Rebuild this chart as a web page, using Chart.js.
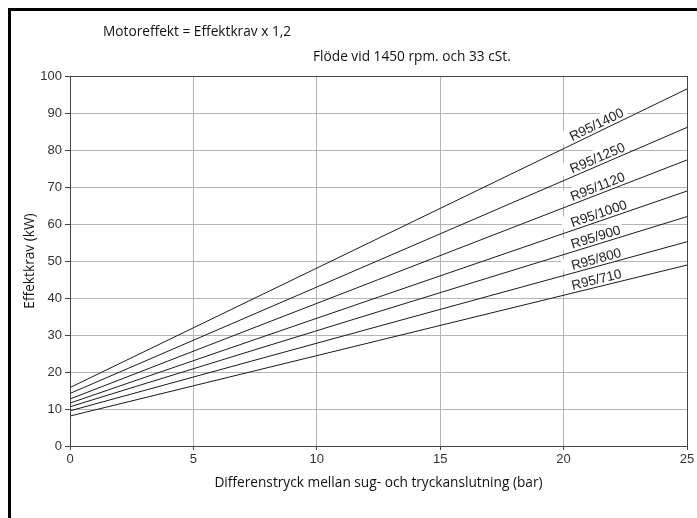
<!DOCTYPE html>
<html>
<head>
<meta charset="utf-8">
<script src="https://cdn.jsdelivr.net/npm/chart.js@4"></script>
<style>
  html, body { margin: 0; padding: 0; background: #fff; }
  #wrap { position: relative; width: 697px; height: 518px; overflow: hidden; }
  #frame { position: absolute; left: 8px; top: 8px; width: 720px; height: 600px; border: 3px solid #000; box-sizing: border-box; }
  #graph { position: absolute; left: 0; top: 0; }
</style>
</head>
<body>
<div id="wrap">
  <div id="frame"></div>
  <canvas id="graph" width="697" height="518"></canvas>
</div>
<script>
// Pumpar och effektkrav (kW) vid 0 och 25 bar
const pumps = ['R95/1400', 'R95/1250', 'R95/1120', 'R95/1000', 'R95/900', 'R95/800', 'R95/710'];
const pressure = [0, 25];
const effectAt0 = [15.8, 14.2, 12.7, 11.6, 10.6, 9.5, 8.1];
const effectAt25 = [96.5, 86.1, 77.3, 68.9, 62.0, 55.2, 48.9];

// Texter
const headerText = 'Motoreffekt = Effektkrav x 1,2';
const subText = 'Flöde vid 1450 rpm. och 33 cSt.';
const xTitle = 'Differenstryck mellan sug- och tryckanslutning (bar)';
const yTitle = 'Effektkrav (kW)';
const labelAt = 20.4; // var etiketterna börjar (bar)

const titleFont = '13.7px "Open Sans", sans-serif';
const labelFont = '13.5px "Liberation Sans", Arial, sans-serif';

const datasets = pumps.map((name, i) => ({
  label: name,
  data: pressure.map((p, k) => ({ x: p, y: k === 0 ? effectAt0[i] : effectAt25[i] })),
  borderColor: '#1a1a1a',
  borderWidth: 1,
  pointRadius: 0,
  fill: false,
  tension: 0
}));

// Etiketter, ram och rubriker
const overlay = {
  id: 'overlay',
  beforeDatasetsDraw(chart) {
    const ctx = chart.ctx;
    const xs = chart.scales.x, ys = chart.scales.y;
    ctx.save();
    ctx.font = labelFont;
    ctx.textBaseline = 'alphabetic';
    ctx.textAlign = 'left';
    pumps.forEach((name, i) => {
      const x0 = xs.getPixelForValue(0), y0 = ys.getPixelForValue(effectAt0[i]);
      const x1 = xs.getPixelForValue(25), y1 = ys.getPixelForValue(effectAt25[i]);
      const angle = Math.atan2(y1 - y0, x1 - x0);
      const v = effectAt0[i] + (effectAt25[i] - effectAt0[i]) * labelAt / 25;
      const px = xs.getPixelForValue(labelAt), py = ys.getPixelForValue(v);
      const w = ctx.measureText(name).width;
      ctx.save();
      ctx.translate(px, py);
      ctx.rotate(angle);
      ctx.fillStyle = '#fff';
      ctx.fillRect(-9, -16, w + 12, 16);
      ctx.fillStyle = '#222';
      ctx.fillText(name, 0, -3);
      ctx.restore();
    });
    ctx.restore();
  },
  afterDatasetsDraw(chart) {
    const ctx = chart.ctx;
    const a = chart.chartArea;
    ctx.save();
    ctx.strokeStyle = '#444';
    ctx.lineWidth = 1;
    ctx.strokeRect(Math.round(a.left) + 0.5, Math.round(a.top) + 0.5,
      Math.round(a.right - a.left), Math.round(a.bottom - a.top));
    ctx.restore();
  },
  afterDraw(chart) {
    const ctx = chart.ctx;
    const a = chart.chartArea;
    ctx.save();
    ctx.fillStyle = '#111';
    ctx.font = titleFont;
    ctx.textBaseline = 'middle';
    ctx.textAlign = 'left';
    ctx.fillText(headerText, 103, 32);
    ctx.fillText(subText, 313, 57);
    ctx.textAlign = 'center';
    ctx.fillText(xTitle, (a.left + a.right) / 2, 483);
    ctx.translate(30, (a.top + a.bottom) / 2);
    ctx.rotate(-Math.PI / 2);
    ctx.fillText(yTitle, 0, 0);
    ctx.restore();
  }
};

const ctx = document.getElementById('graph').getContext('2d');
new Chart(ctx, {
  type: 'line',
  data: { datasets: datasets },
  options: {
    responsive: false,
    animation: false,
    layout: { padding: { left: 0, top: 76, right: 10, bottom: 0 } },
    plugins: {
      legend: { display: false },
      tooltip: { enabled: false }
    },
    scales: {
      x: {
        type: 'linear',
        min: 0,
        max: 25,
        afterFit(scale) { scale.height = 72; },
        ticks: {
          stepSize: 5,
          padding: 2,
          color: '#333',
          font: { family: '"Liberation Sans", Arial, sans-serif', size: 13 }
        },
        grid: { color: '#b4b4b4', tickColor: '#444', tickLength: 4 },
        border: { color: '#444' }
      },
      y: {
        min: 0,
        max: 100,
        afterFit(scale) { scale.width = 70; },
        ticks: {
          stepSize: 10,
          padding: 3,
          color: '#333',
          font: { family: '"Liberation Sans", Arial, sans-serif', size: 13 }
        },
        grid: { color: '#b4b4b4', tickColor: '#444', tickLength: 5 },
        border: { color: '#444' }
      }
    }
  },
  plugins: [overlay]
});
</script>
</body>
</html>
